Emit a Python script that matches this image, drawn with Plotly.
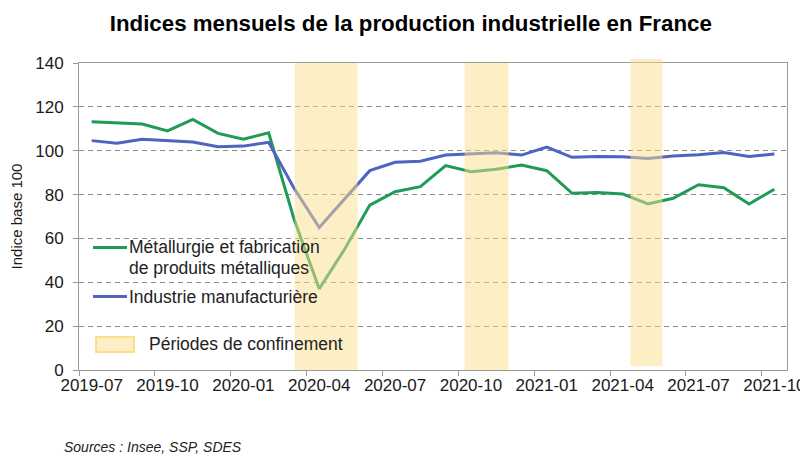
import plotly.graph_objects as go

months = ["2019-07", "2019-08", "2019-09", "2019-10", "2019-11", "2019-12",
          "2020-01", "2020-02", "2020-03", "2020-04", "2020-05", "2020-06",
          "2020-07", "2020-08", "2020-09", "2020-10", "2020-11", "2020-12",
          "2021-01", "2021-02", "2021-03", "2021-04", "2021-05", "2021-06",
          "2021-07", "2021-08", "2021-09", "2021-10"]

metallurgie = [113.2, 112.8, 112.2, 109.0, 114.3, 107.9, 105.2, 108.2, 69.0, 37.0,
               55.0, 75.2, 81.3, 83.6, 93.2, 90.4, 91.5, 93.5, 90.9, 80.6,
               80.9, 80.3, 75.7, 78.3, 84.5, 83.1, 75.7, 82.4]

manufacturiere = [104.6, 103.4, 105.2, 104.7, 104.0, 101.8, 102.1, 103.8, 83.0, 65.0,
                  78.0, 90.9, 94.7, 95.2, 98.0, 98.6, 99.1, 98.0, 101.7, 97.0,
                  97.4, 97.3, 96.5, 97.6, 98.2, 99.2, 97.4, 98.5]

# lockdown periods, expressed in month-index units of the x axis
lockdown_start = [8.03, 14.75, 21.31]
lockdown_end = [10.52, 16.49, 22.58]

tick_labels = months[::3]

series_names = ["Métallurgie et fabrication<br>de produits métalliques",
                "Industrie manufacturière"]
band_label = "Périodes de confinement"

x_idx = list(range(len(months)))

GREEN = "#1F9B56"
BLUE = "#4F63C0"
BAND = "rgb(249,223,141)"
FONT = "Liberation Sans, Arial, sans-serif"
TXT = "#1a1a1a"

fig = go.Figure()
fig.add_trace(go.Scatter(
    x=x_idx, y=metallurgie, mode="lines", name=series_names[0],
    line=dict(color=GREEN, width=3), showlegend=False))
fig.add_trace(go.Scatter(
    x=x_idx, y=manufacturiere, mode="lines", name=series_names[1],
    line=dict(color=BLUE, width=3), showlegend=False))

shapes = []
for i, (s, e) in enumerate(zip(lockdown_start, lockdown_end)):
    y0, y1 = (0.012, 1.013) if i == 2 else (0, 1)
    shapes.append(dict(type="rect", xref="x", yref="paper", x0=s, x1=e,
                       y0=y0, y1=y1, fillcolor=BAND, opacity=0.5,
                       line=dict(width=0), layer="above"))

# manual legend (plot area: 708 x 307 px, origin at px (79, 370) in the page)
def px_x(p):
    return (p - 79) / 708

def px_y(p):
    return (370 - p) / 307

shapes.append(dict(type="line", xref="paper", yref="paper",
                   x0=px_x(93), x1=px_x(127), y0=px_y(247.5), y1=px_y(247.5),
                   line=dict(color=GREEN, width=3)))
shapes.append(dict(type="line", xref="paper", yref="paper",
                   x0=px_x(93), x1=px_x(127), y0=px_y(296.5), y1=px_y(296.5),
                   line=dict(color=BLUE, width=3)))
shapes.append(dict(type="rect", xref="paper", yref="paper",
                   x0=px_x(96), x1=px_x(134), y0=px_y(352), y1=px_y(337),
                   fillcolor="rgba(249,223,141,0.5)",
                   line=dict(color="rgba(249,220,135,0.9)", width=2), layer="above"))

leg_font = dict(family=FONT, size=17.5, color="#222222")
name_lines = series_names[0].split("<br>")
annotations = [
    dict(text=name_lines[0], xref="paper", yref="paper", x=px_x(127), y=px_y(247),
         xanchor="left", yanchor="middle", showarrow=False, font=leg_font),
    dict(text=name_lines[1], xref="paper", yref="paper", x=px_x(127), y=px_y(268),
         xanchor="left", yanchor="middle", showarrow=False, font=leg_font),
    dict(text=series_names[1], xref="paper", yref="paper", x=px_x(127), y=px_y(297),
         xanchor="left", yanchor="middle", showarrow=False, font=leg_font),
    dict(text=band_label, xref="paper", yref="paper", x=px_x(147), y=px_y(344),
         xanchor="left", yanchor="middle", showarrow=False, font=leg_font),
    dict(text="<i>Sources : Insee, SSP, SDES</i>", xref="paper", yref="paper",
         x=px_x(62), y=px_y(447), xanchor="left", yanchor="middle",
         showarrow=False, font=dict(family=FONT, size=14, color="#222222")),
]

# the page body adds an 8 px offset, so the figure is 800 x 447
fig.update_layout(
    width=800, height=447,
    margin=dict(l=71, r=21, t=55, b=85),
    paper_bgcolor="white", plot_bgcolor="white",
    font=dict(family=FONT, size=17, color=TXT),
    title=dict(text="<b>Indices mensuels de la production industrielle en France</b>",
               x=0.5035, xanchor="center", y=0.967, yanchor="middle",
               font=dict(family=FONT, size=22.3, color="#000000")),
    showlegend=False,
    shapes=shapes,
    annotations=annotations,
)

fig.update_xaxes(
    range=[-0.5, len(months) - 0.5], automargin=False,
    tickmode="array", tickvals=x_idx[::3], ticktext=tick_labels,
    ticks="", showgrid=False, zeroline=False,
    showline=True, linecolor="#9a9a9a", linewidth=1, mirror=True,
    minor=dict(tick0=-0.5, dtick=3, ticks="outside", ticklen=5,
               tickcolor="#9a9a9a", showgrid=False),
    tickfont=dict(family=FONT, size=17, color=TXT),
)
fig.update_yaxes(
    range=[0, 140], automargin=False,
    tickmode="array", tickvals=[0, 20, 40, 60, 80, 100, 120, 140],
    ticks="outside", ticklen=5, tickcolor="#9a9a9a",
    showgrid=True, gridcolor="#8a8a8a", gridwidth=1, griddash="5px,4px",
    zeroline=False, showline=True, linecolor="#9a9a9a", linewidth=1, mirror=True,
    ticklabelstandoff=6,
    title=dict(text="Indice base 100", standoff=9,
               font=dict(family=FONT, size=15, color=TXT)),
    tickfont=dict(family=FONT, size=17, color=TXT),
)

fig.write_html("out.html")
